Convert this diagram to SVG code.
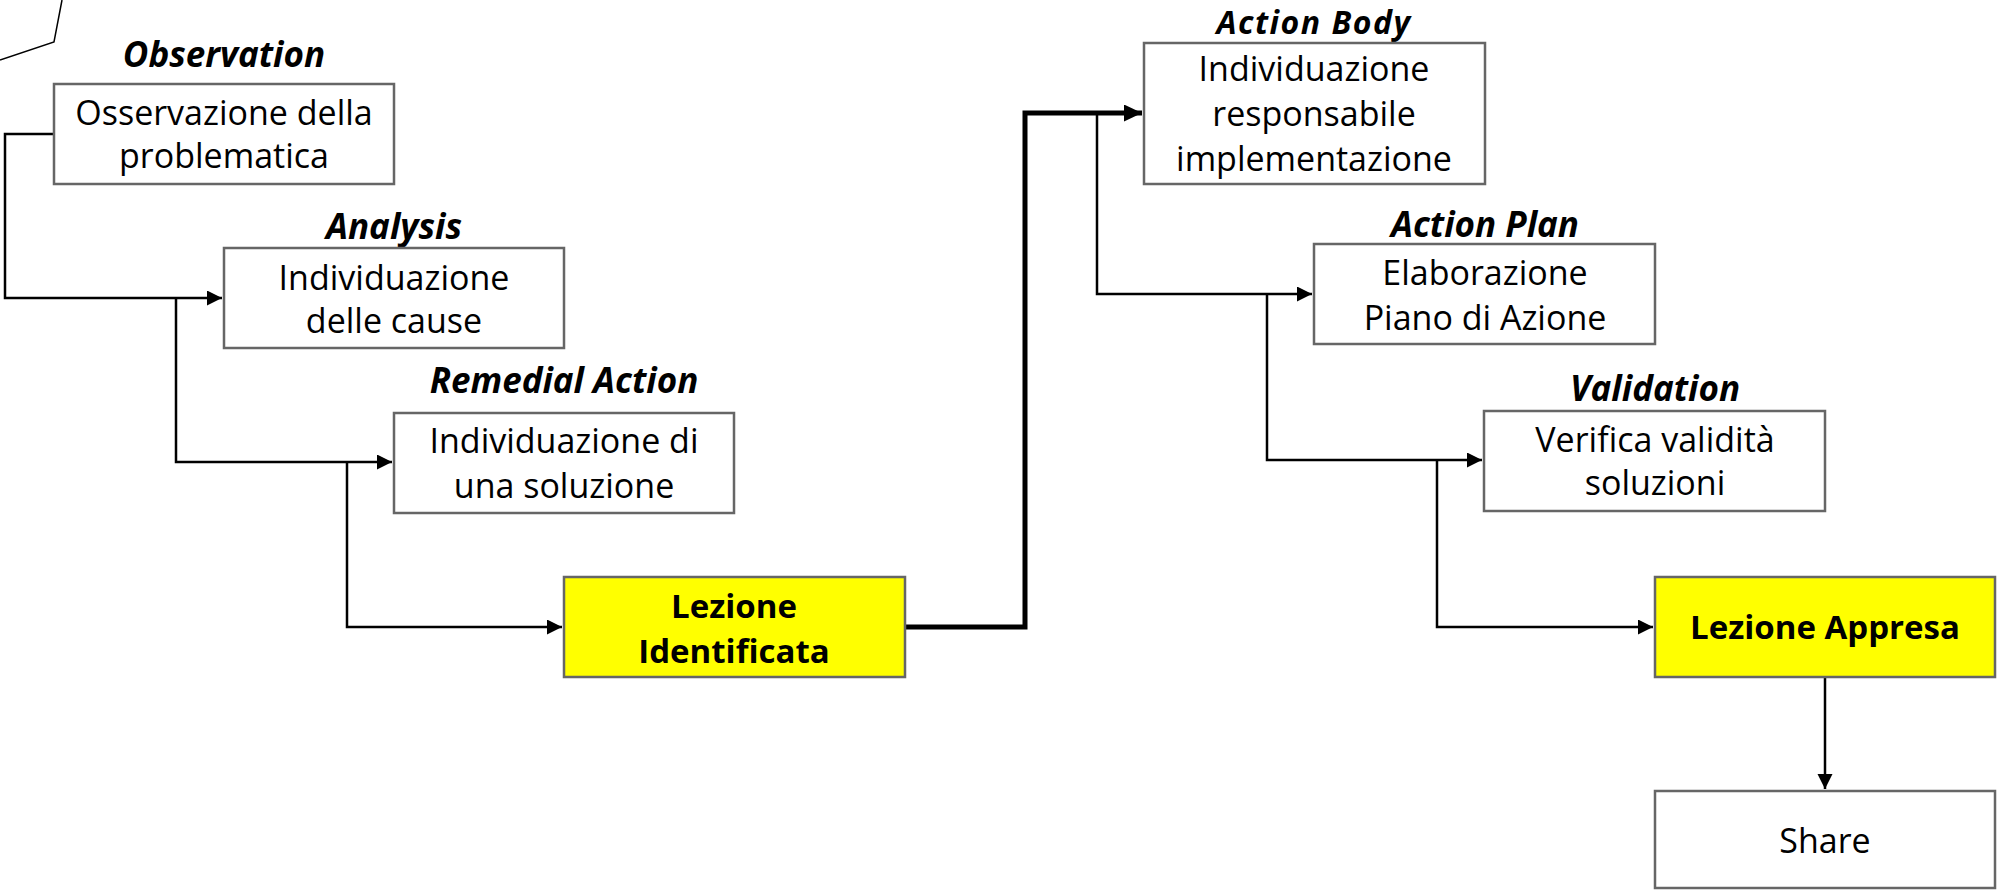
<svg xmlns="http://www.w3.org/2000/svg" width="1998" height="890" viewBox="0 0 1998 890">
<style>
.box{fill:#ffffff;stroke:#666666;stroke-width:2.5}
.hl{fill:#ffff00;stroke:#666666;stroke-width:2.5}
.t{font-family:"Open Sans","Noto Sans",sans-serif;font-size:34px;fill:#000;text-anchor:middle}
.b{font-weight:bold;font-size:33px}
.lab{font-family:"Open Sans","Noto Sans",sans-serif;font-size:35px;font-weight:bold;font-style:italic;fill:#000;text-anchor:middle}
.c{fill:none;stroke:#000;stroke-width:2.5}
.ct{fill:none;stroke:#000;stroke-width:5}
</style>
<defs>
<marker id="ah" markerUnits="userSpaceOnUse" markerWidth="16" markerHeight="16" refX="15" refY="7.5" orient="auto">
<path d="M0,0 L15,7.5 L0,15 Z" fill="#000"/>
</marker>
<marker id="ahT" markerUnits="userSpaceOnUse" markerWidth="19" markerHeight="18" refX="18" refY="8.5" orient="auto">
<path d="M0,0 L18,8.5 L0,17 Z" fill="#000"/>
</marker>
</defs>
<polyline points="0,60 54,42 62,0" fill="none" stroke="#000" stroke-width="1.5"/>
<g id="connectors">
<path class="c" d="M54,134 H5 V298 H222" marker-end="url(#ah)"/>
<path class="c" d="M176,298 V462 H392" marker-end="url(#ah)"/>
<path class="c" d="M347,462 V627 H562" marker-end="url(#ah)"/>
<path class="ct" d="M905,627 H1025 V113 H1142" marker-end="url(#ahT)"/>
<path class="c" d="M1097,113 V294 H1312" marker-end="url(#ah)"/>
<path class="c" d="M1267,294 V460 H1482" marker-end="url(#ah)"/>
<path class="c" d="M1437,460 V627 H1653" marker-end="url(#ah)"/>
<path class="c" d="M1825,677 V789" marker-end="url(#ah)"/>
</g>
<g id="observation">
<text class="lab" x="224" y="67">Observation</text>
<rect class="box" x="54" y="84" width="340" height="100"/>
<text class="t" x="224" y="125">Osservazione della</text>
<text class="t" x="224" y="168">problematica</text>
</g>
<g id="analysis">
<text class="lab" x="394" y="239">Analysis</text>
<rect class="box" x="224" y="248" width="340" height="100"/>
<text class="t" x="394" y="290">Individuazione</text>
<text class="t" x="394" y="333">delle cause</text>
</g>
<g id="remedial">
<text class="lab" x="564" y="393">Remedial Action</text>
<rect class="box" x="394" y="413" width="340" height="100"/>
<text class="t" x="564" y="453">Individuazione di</text>
<text class="t" x="564" y="498">una soluzione</text>
</g>
<g id="lezione-identificata">
<rect class="hl" x="564" y="577" width="341" height="100"/>
<text class="t b" x="734" y="618">Lezione</text>
<text class="t b" x="734" y="663">Identificata</text>
</g>
<g id="action-body">
<text class="lab" x="1314" y="34" style="font-size:32px;letter-spacing:1.5px">Action Body</text>
<rect class="box" x="1144" y="43" width="341" height="141"/>
<text class="t" x="1314" y="81">Individuazione</text>
<text class="t" x="1314" y="126">responsabile</text>
<text class="t" x="1314" y="171">implementazione</text>
</g>
<g id="action-plan">
<text class="lab" x="1485" y="237">Action Plan</text>
<rect class="box" x="1314" y="244" width="341" height="100"/>
<text class="t" x="1485" y="285">Elaborazione</text>
<text class="t" x="1485" y="330">Piano di Azione</text>
</g>
<g id="validation">
<text class="lab" x="1655" y="401">Validation</text>
<rect class="box" x="1484" y="411" width="341" height="100"/>
<text class="t" x="1655" y="452">Verifica validità</text>
<text class="t" x="1655" y="495">soluzioni</text>
</g>
<g id="lezione-appresa">
<rect class="hl" x="1655" y="577" width="340" height="100"/>
<text class="t b" x="1825" y="639">Lezione Appresa</text>
</g>
<g id="share">
<rect class="box" x="1655" y="791" width="340" height="97"/>
<text class="t" x="1825" y="853">Share</text>
</g>
</svg>
